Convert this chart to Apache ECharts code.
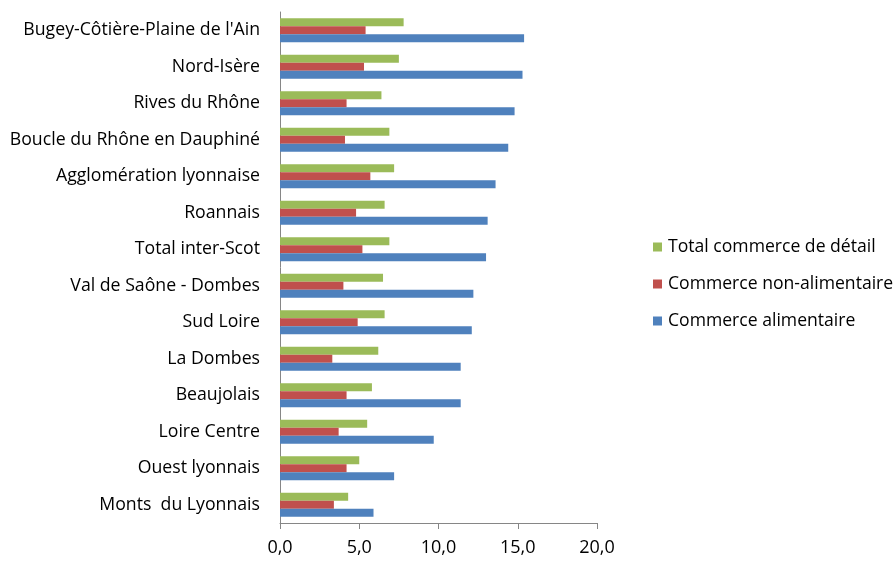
<!DOCTYPE html>
<html>
<head>
<meta charset="utf-8">
<script src="https://cdn.jsdelivr.net/npm/echarts@6/dist/echarts.min.js"></script>
<style>
  html, body { margin: 0; padding: 0; background: #fff; }
  #main { width: 896px; height: 562px; }
</style>
</head>
<body>
<div id="main"></div>
<script>
// categories, top to bottom as in the picture
var territoires = [
  "Bugey-Côtière-Plaine de l'Ain", "Nord-Isère", "Rives du Rhône",
  "Boucle du Rhône en Dauphiné", "Agglomération lyonnaise", "Roannais",
  "Total inter-Scot", "Val de Saône - Dombes", "Sud Loire", "La Dombes",
  "Beaujolais", "Loire Centre", "Ouest lyonnais", "Monts  du Lyonnais"
];
var totalDetail  = [7.8, 7.5, 6.4, 6.9, 7.2, 6.6, 6.9, 6.5, 6.6, 6.2, 5.8, 5.5, 5.0, 4.3];
var nonAlim      = [5.4, 5.3, 4.2, 4.1, 5.7, 4.8, 5.2, 4.0, 4.9, 3.3, 4.2, 3.7, 4.2, 3.4];
var alimentaire  = [15.4, 15.3, 14.8, 14.4, 13.6, 13.1, 13.0, 12.2, 12.1, 11.4, 11.4, 9.7, 7.2, 5.9];
var xTicks = [0, 5, 10, 15, 20];

var font = "'Open Sans', sans-serif";
var myChart = echarts.init(document.getElementById('main'));

var option = {
  animation: false,
  textStyle: { fontFamily: font },
  grid: { left: 280, right: 299, top: 12, bottom: 39 },
  legend: {
    orient: 'vertical',
    left: 648,
    top: 233,
    itemWidth: 9,
    itemHeight: 9,
    itemGap: 19,
    icon: 'rect',
    textStyle: { fontSize: 17.6, color: '#000', fontFamily: font, padding: [0, 0, 0, 1] },
    data: ['Total commerce de détail', 'Commerce non-alimentaire', 'Commerce alimentaire']
  },
  xAxis: {
    type: 'value',
    min: xTicks[0],
    max: xTicks[xTicks.length - 1],
    interval: 5,
    splitLine: { show: false },
    axisLine: { show: true, lineStyle: { color: '#868686' } },
    axisTick: { show: true, length: 6, lineStyle: { color: '#868686' } },
    axisLabel: {
      color: '#000', fontSize: 18, margin: 16,
      formatter: function (v) { return v.toFixed(1).replace('.', ','); }
    }
  },
  yAxis: {
    type: 'category',
    inverse: true,
    data: territoires,
    axisLine: { lineStyle: { color: '#868686' } },
    axisTick: { length: 6, lineStyle: { color: '#868686' } },
    axisLabel: { color: '#000', fontSize: 17.7, margin: 20, padding: [3, 0, 0, 0] }
  },
  series: [
    {
      name: 'Total commerce de détail', type: 'bar', data: totalDetail,
      barWidth: 8, barGap: '0%', itemStyle: { color: '#9BBB59' }
    },
    {
      name: 'Commerce non-alimentaire', type: 'bar', data: nonAlim,
      barWidth: 8, barGap: '0%', itemStyle: { color: '#C0504D' }
    },
    {
      name: 'Commerce alimentaire', type: 'bar', data: alimentaire,
      barWidth: 8, barGap: '0%', itemStyle: { color: '#4F81BD' }
    }
  ]
};
myChart.setOption(option);
</script>
</body>
</html>
